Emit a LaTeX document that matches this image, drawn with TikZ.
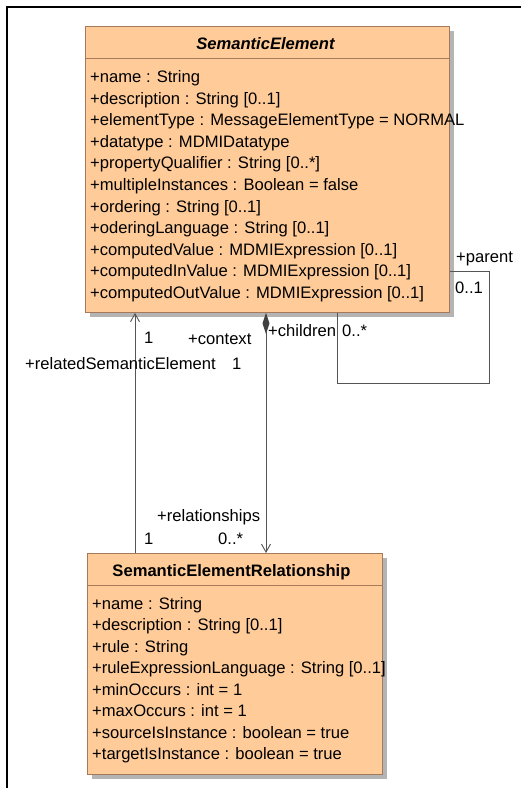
\documentclass[tikz,border=0pt]{standalone}
\usepackage{fontspec}
\setmainfont{Liberation Sans}
\usetikzlibrary{arrows.meta,shadows,calc}

\definecolor{clsfill}{HTML}{FFCC99}
\definecolor{clsline}{HTML}{A57A5A}
\definecolor{wire}{HTML}{555555}
\definecolor{shade}{HTML}{B4B4B4}
\definecolor{diam}{HTML}{404040}

\begin{document}
\begin{tikzpicture}[x=1pt,y=-1pt,
  every node/.style={font=\fontsize{16.6}{21.6}\selectfont, inner sep=0pt, text=black},
  classbox/.style={rectangle, draw=clsline, fill=clsfill, line width=0.9pt,
    anchor=north west,
    drop shadow={shadow xshift=5pt, shadow yshift=-5pt, fill=shade, opacity=1}},
  sepline/.style={draw=clsline, line width=0.9pt},
  classname/.style={anchor=base, font=\fontsize{16.6}{21.6}\selectfont\bfseries},
  attr/.style={anchor=base west},
  lbl/.style={anchor=base west},
  wireline/.style={draw=wire, line width=0.9pt},
  openhead/.style={-{Straight Barb[length=8pt,width=9pt]}},
  composite/.style={{Diamond[length=21pt,width=7pt,fill=diam,color=diam]}-{Straight Barb[length=8pt,width=9pt]}}
]
\useasboundingbox (0,0) rectangle (520,788);

% outer frame
\draw[line width=2pt] (7,800) -- (7,7) -- (530,7);

% ---- class SemanticElement ----
\node[classbox, minimum width=364pt, minimum height=286pt] (se) at (85,26) {};
\draw[sepline] ([yshift=-32pt]se.north west) -- ([yshift=-32pt]se.north east);
\node[classname] (se-name) at ($(se.north)+(-2,23.8)$) {\itshape SemanticElement};
\foreach \txt [count=\i from 0] in {
  +name : String,
  +description : String [0..1],
  +elementType : MessageElementType = NORMAL,
  +datatype : MDMIDatatype,
  +propertyQualifier : String [0..*],
  +multipleInstances : Boolean = false,
  +ordering : String [0..1],
  +oderingLanguage : String [0..1],
  +computedValue : MDMIExpression [0..1],
  +computedInValue : MDMIExpression [0..1],
  +computedOutValue : MDMIExpression [0..1]}
  \node[attr] (se-attr\i) at (90,{82.5+21.6*\i}) {\txt};

% ---- class SemanticElementRelationship ----
\node[classbox, minimum width=295pt, minimum height=221pt] (ser) at (87,553) {};
\draw[sepline] ([yshift=-32pt]ser.north west) -- ([yshift=-32pt]ser.north east);
\node[classname] (ser-name) at ($(ser.north)+(-3.5,23.5)$) {SemanticElementRelationship};
\foreach \txt [count=\i from 0] in {
  +name : String,
  +description : String [0..1],
  +rule : String,
  +ruleExpressionLanguage : String [0..1],
  +minOccurs : int = 1,
  +maxOccurs : int = 1,
  +sourceIsInstance : boolean = true,
  +targetIsInstance : boolean = true}
  \node[attr] (ser-attr\i) at (92,{609+21.5*\i}) {\txt};

% ---- associations ----
\coordinate (xl) at (135,0);
\coordinate (xm) at (266,0);
\coordinate (loopA) at (337,383);
\coordinate (loopB) at (489,271);

% relatedSemanticElement
\draw[wireline, openhead] (ser.north -| xl) -- (se.south -| xl);
% context / relationships (composition)
\draw[wireline, composite] (se.south -| xm) -- (ser.north -| xm);
% parent / children (self association)
\draw[wireline] (se.south -| loopA) -- (loopA) -| (loopB) -- (se.east |- loopB);

% ---- association end labels ----
\node[lbl] (m-rel-top) at (144,343.5) {1};
\node[lbl] (r-rel) at (25,369.5) {+relatedSemanticElement};
\node[lbl] (r-ctx) at (188,344.5) {+context};
\node[lbl] (m-ctx) at (232,369.5) {1};
\node[lbl] (r-rels) at (157,521.5) {+relationships};
\node[lbl] (m-rels) at (218,544.5) {0..*};
\node[lbl] (m-rel-bot) at (144,544.5) {1};
\node[lbl] (r-child) at (268,336.5) {+children};
\node[lbl] (m-child) at (342,336.5) {0..*};
\node[lbl] (r-parent) at (456,262.5) {+parent};
\node[lbl] (m-parent) at (455,293.5) {0..1};
\end{tikzpicture}
\end{document}
